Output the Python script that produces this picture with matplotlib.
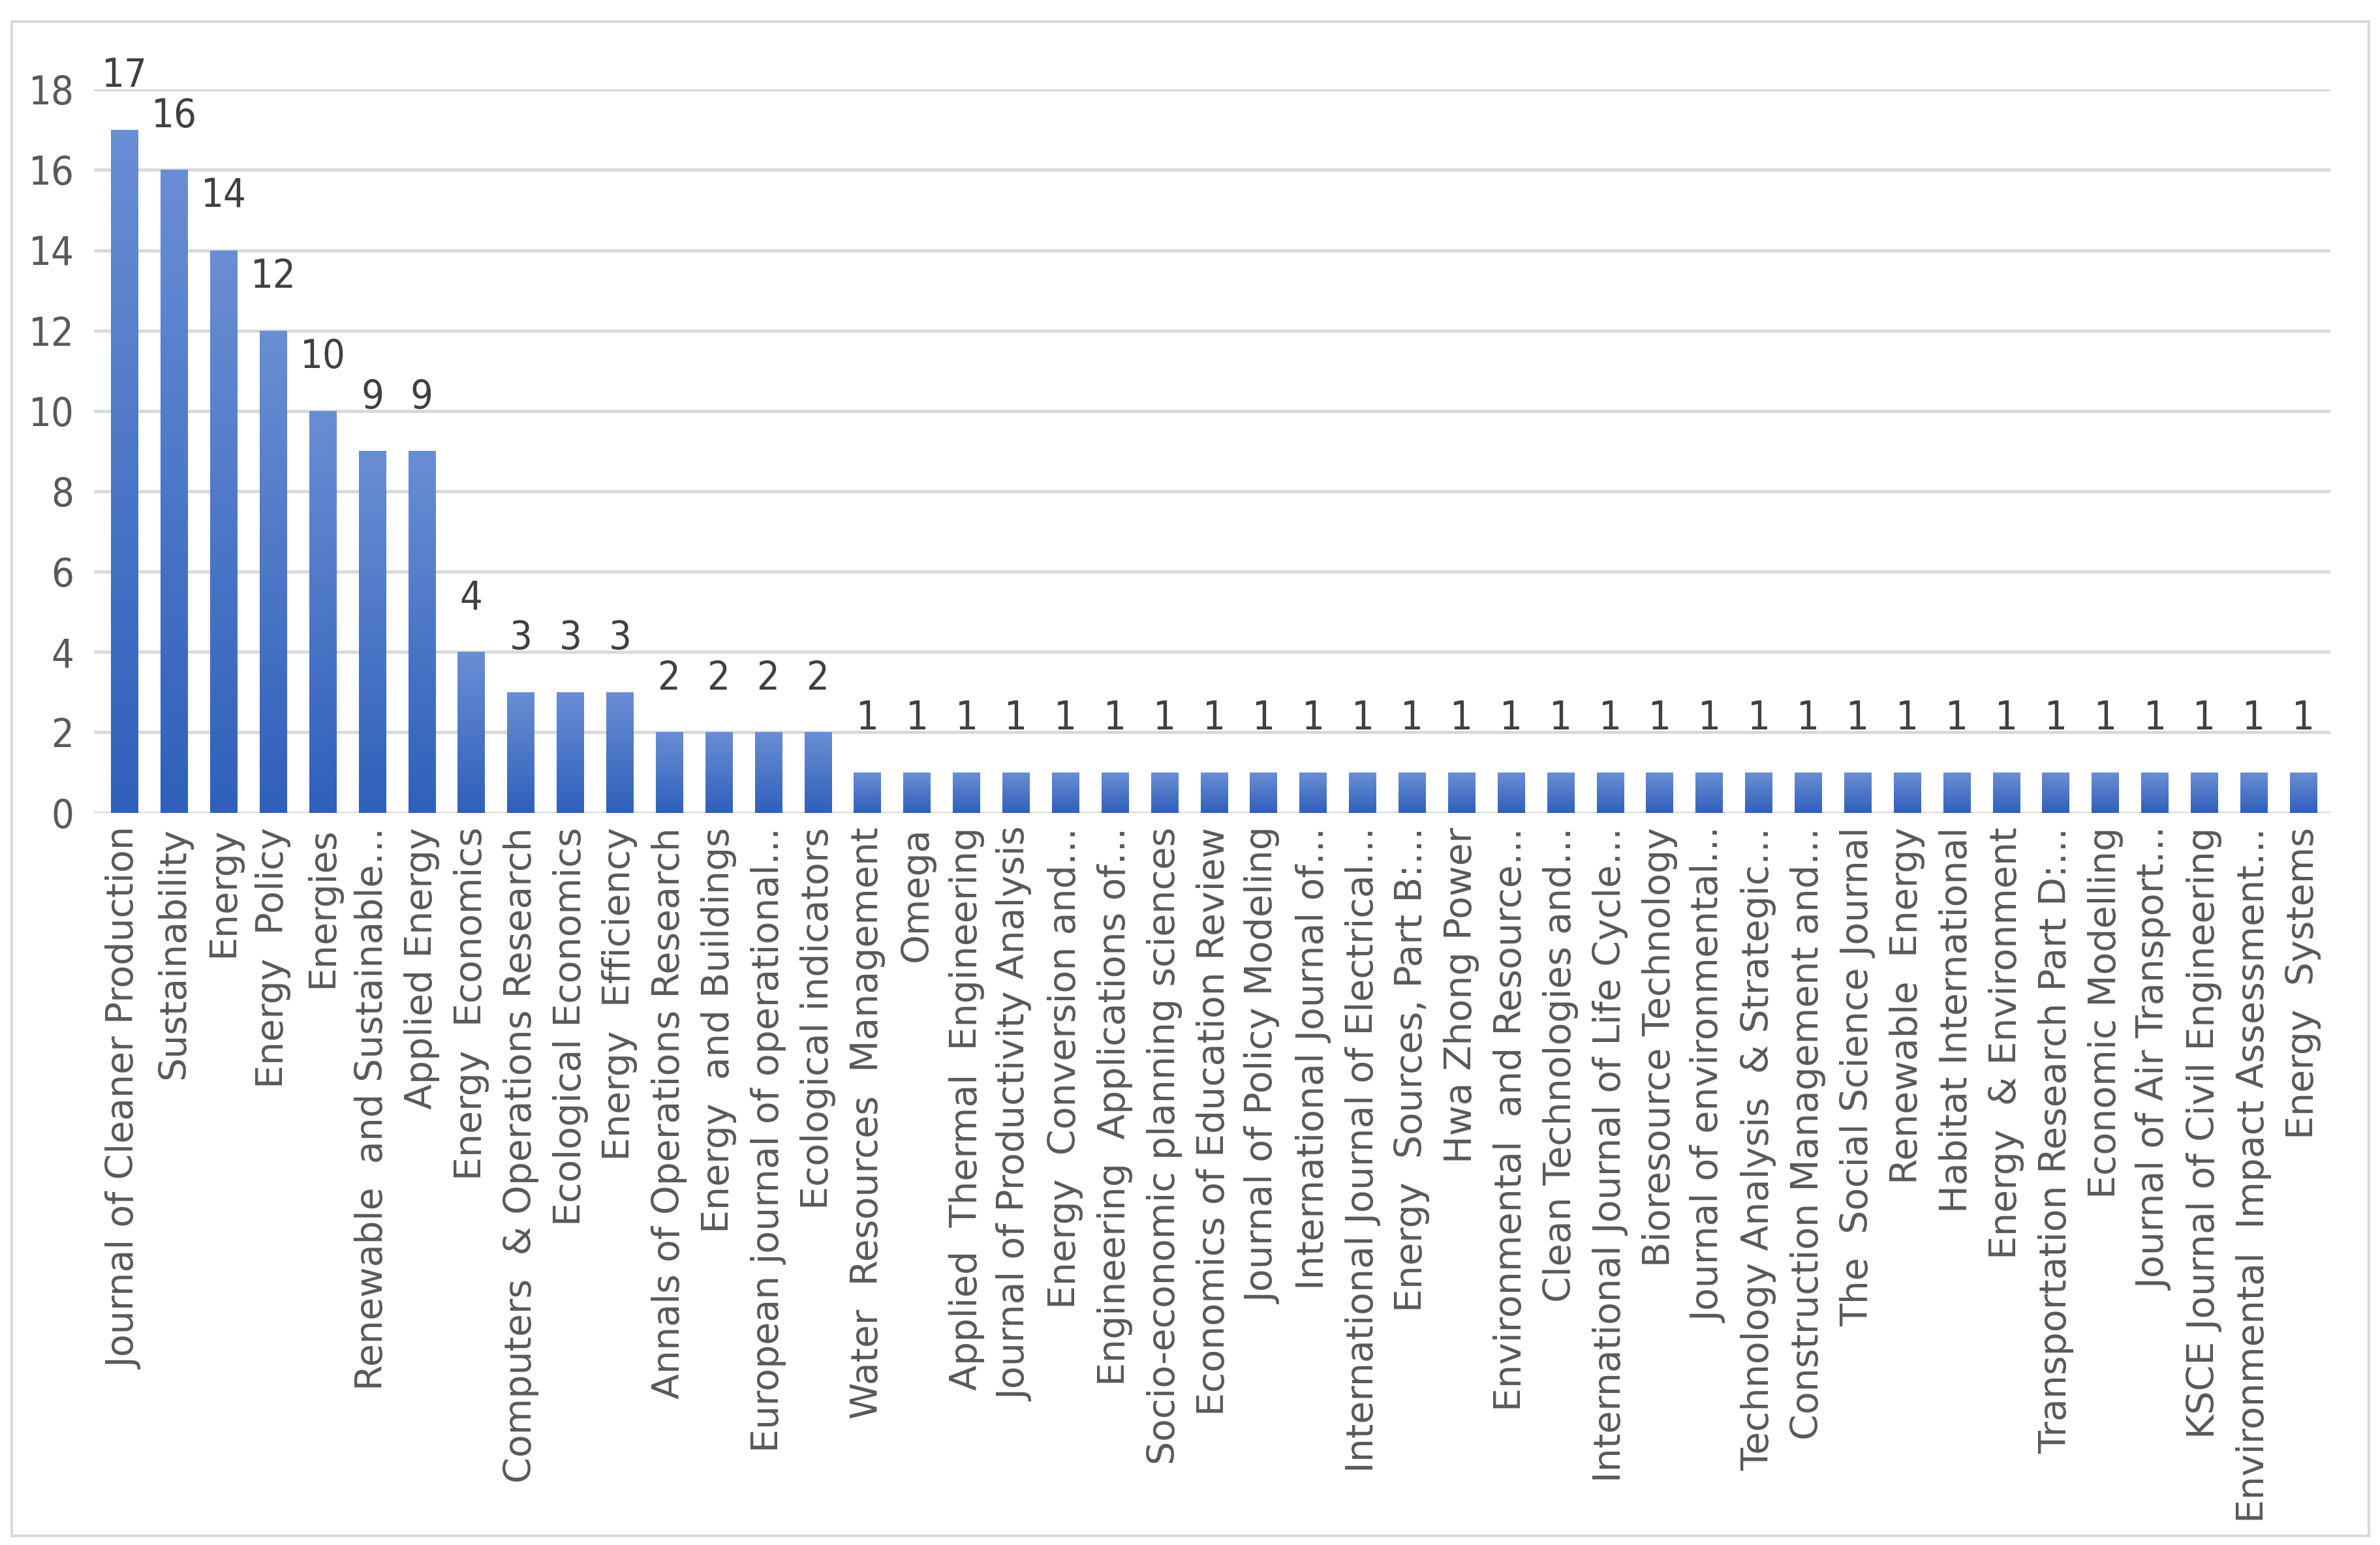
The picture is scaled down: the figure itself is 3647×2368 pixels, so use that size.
import numpy as np
import matplotlib
matplotlib.use('Agg')
import matplotlib.pyplot as plt
from matplotlib.patches import Rectangle
from matplotlib.colors import LinearSegmentedColormap
from matplotlib import font_manager

journals = [
    'Journal of Cleaner Production', 'Sustainability', 'Energy', 'Energy  Policy',
    'Energies', 'Renewable  and Sustainable…', 'Applied Energy', 'Energy  Economics',
    'Computers  & Operations Research', 'Ecological Economics', 'Energy  Efficiency',
    'Annals of Operations Research', 'Energy  and Buildings', 'European journal of operational…',
    'Ecological indicators', 'Water  Resources  Management', 'Omega',
    'Applied  Thermal  Engineering', 'Journal of Productivity Analysis',
    'Energy  Conversion and…', 'Engineering  Applications of…',
    'Socio-economic planning sciences', 'Economics of Education Review',
    'Journal of Policy Modeling', 'International Journal of…',
    'International Journal of Electrical…', 'Energy  Sources, Part B:…',
    'Hwa Zhong Power', 'Environmental  and Resource…', 'Clean Technologies and…',
    'International Journal of Life Cycle…', 'Bioresource Technology',
    'Journal of environmental…', 'Technology Analysis  & Strategic…',
    'Construction Management and…', 'The  Social Science Journal', 'Renewable  Energy',
    'Habitat International', 'Energy  & Environment', 'Transportation Research Part D:…',
    'Economic Modelling', 'Journal of Air Transport…', 'KSCE Journal of Civil Engineering',
    'Environmental  Impact Assessment…', 'Energy  Systems',
]
counts = [17, 16, 14, 12, 10, 9, 9, 4, 3, 3, 3, 2, 2, 2, 2] + [1] * 30
yticks = [0, 2, 4, 6, 8, 10, 12, 14, 16, 18]

# narrow font for the numbers if there is one
names = {f.name for f in font_manager.fontManager.ttflist}
narrow = [n for n in ['Liberation Sans Narrow', 'DejaVu Sans'] if n in names]
cond = any(f.name == 'DejaVu Sans' and f.stretch == 'condensed'
           for f in font_manager.fontManager.ttflist)
num_stretch = 'condensed' if (narrow[0] == 'DejaVu Sans' and cond) else 'normal'

fig = plt.figure(figsize=(36.48, 23.68), dpi=100)
ax = fig.add_axes([0.0395, 0.474, 0.9395, 0.468])

# frame around the whole chart
fig.patches.append(Rectangle((0.005, 0.006), 0.99, 0.98, transform=fig.transFigure,
                             fill=False, edgecolor='#D9D9D9', linewidth=3))

x = np.arange(len(journals))
bars = ax.bar(x, counts, width=0.55, color='#4A77C9', zorder=3)

# vertical gradient on each bar
cmap = LinearSegmentedColormap.from_list('bar', ['#2F60BB', '#6A8ED4'])
grad = np.linspace(0, 1, 256).reshape(-1, 1)
for b in bars:
    x0, y0 = b.get_x(), b.get_y()
    w, h = b.get_width(), b.get_height()
    im = ax.imshow(grad, cmap=cmap, origin='lower', aspect='auto',
                   extent=(x0, x0 + w, y0, y0 + h), zorder=4)
    im.set_clip_path(b)

for xi, c in zip(x, counts):
    ax.annotate(str(c), (xi, c), xytext=(0, 38), textcoords='offset points',
                ha='center', va='bottom', fontsize=44, color='#404040',
                family=narrow, fontstretch=num_stretch, clip_on=False)

ax.set_xlim(-0.62, len(journals) - 0.45)
ax.set_ylim(0, 18)
ax.set_yticks(yticks)
ax.set_xticks(x)
ax.set_xticklabels(journals, rotation=90, fontsize=41, color='#595959',
                   family='DejaVu Sans')
for lbl in ax.get_yticklabels():
    lbl.set_fontsize(44)
    lbl.set_color('#595959')
    lbl.set_family(narrow)
    lbl.set_fontstretch(num_stretch)
ax.tick_params(axis='both', length=0)
ax.tick_params(axis='x', pad=16)
ax.tick_params(axis='y', pad=22)
ax.yaxis.grid(True, color='#D9D9D9', linewidth=3.5, zorder=0)
ax.set_axisbelow(True)
for s in ax.spines.values():
    s.set_visible(False)

fig.savefig('out.png', dpi=100)
